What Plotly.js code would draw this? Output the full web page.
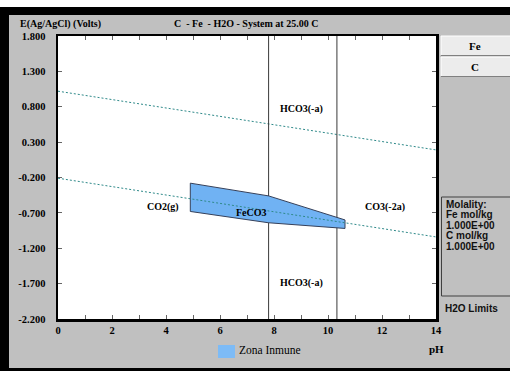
<!DOCTYPE html>
<html><head><meta charset="utf-8">
<script src="https://cdn.plot.ly/plotly-3.0.1.min.js"></script>
<style>html,body{margin:0;padding:0;background:#fff;}#chart{width:510px;height:371px;}</style>
</head><body><div id="chart"></div>
<script>
// ---- data ----
const waterPH = [0, 14];
const o2LimitE = [1.02, 0.19];
const h2LimitE = [-0.21, -1.04];
const boundaryPH = [7.8, 10.33];
const feco3PH = [4.9, 7.8, 10.63, 10.63, 7.8, 4.9, 4.9];
const feco3E = [-0.28, -0.46, -0.80, -0.92, -0.84, -0.68, -0.28];
const regionLabels = ['HCO3(-a)', 'HCO3(-a)', 'CO2(g)', 'FeCO3', 'CO3(-2a)'];
const regionPH = [9.03, 9.03, 3.88, 7.17, 12.1];
const regionE = [0.77, -1.69, -0.62, -0.69, -0.62];
const xTickVals = [0,1,2,3,4,5,6,7,8,9,10,11,12,13,14];
const xTickText = ['0','','2','','4','','6','','8','','10','','12','','14'];
const yTickVals = [1.8, 1.3, 0.8, 0.3, -0.2, -0.7, -1.2, -1.7, -2.2];
const yTickText = ['1.800','1.300','0.800','0.300','-0.200','-0.700','-1.200','-1.700','-2.200'];
const molalityLines = ['Molality:', 'Fe mol/kg', '1.000E+00', 'C mol/kg', '1.000E+00'];

// ---- layout helpers (pixel -> paper) ----
const L = 58, R = 436, T = 36, B = 319;
const px = x => (x - L) / (R - L);
const py = y => (B - y) / (B - T);
const serifB = {family: 'Liberation Serif', size: 10, color: '#000', weight: 'bold'};
const sans = {family: 'Liberation Sans', size: 10, color: '#111', weight: 'bold'};

const traces = [];
traces.push({x: waterPH, y: o2LimitE, mode: 'lines', line: {color: '#2f8a8a', width: 1, dash: '2px,2px'}, showlegend: false, hoverinfo: 'skip'});
boundaryPH.forEach(v => traces.push({x: [v, v], y: [-2.2, 1.8], mode: 'lines', line: {color: '#3a3a3a', width: 1}, showlegend: false, hoverinfo: 'skip'}));
traces.push({x: feco3PH, y: feco3E, mode: 'lines', fill: 'toself', fillcolor: '#70b2f3', line: {color: '#35405a', width: 1}, name: 'Zona Inmune', showlegend: false, hoverinfo: 'skip'});
traces.push({x: waterPH, y: h2LimitE, mode: 'lines', line: {color: '#2f8a8a', width: 1, dash: '2px,2px'}, showlegend: false, hoverinfo: 'skip'});

const ann = [];
regionLabels.forEach((t, i) => ann.push({x: regionPH[i], y: regionE[i], xref: 'x', yref: 'y', text: t, showarrow: false, font: serifB, xanchor: 'center', yanchor: 'middle'}));
ann.push({x: px(18), y: py(24), xref: 'paper', yref: 'paper', text: 'E(Ag/AgCl) (Volts)', showarrow: false, font: serifB, xanchor: 'left', yanchor: 'middle'});
ann.push({x: px(246), y: py(24), xref: 'paper', yref: 'paper', text: 'C \u00a0- Fe \u00a0- H2O - System at 25.00 C', showarrow: false, font: serifB, xanchor: 'center', yanchor: 'middle'});
ann.push({x: px(475), y: py(46), xref: 'paper', yref: 'paper', text: 'Fe', showarrow: false, font: Object.assign({}, serifB, {size: 11}), xanchor: 'center', yanchor: 'middle'});
ann.push({x: px(475), y: py(67), xref: 'paper', yref: 'paper', text: 'C', showarrow: false, font: Object.assign({}, serifB, {size: 11}), xanchor: 'center', yanchor: 'middle'});
const molY = [204, 214.5, 225, 235.5, 246.5];
molalityLines.forEach((t, i) => ann.push({x: px(444), y: py(molY[i]), xref: 'paper', yref: 'paper', text: t, showarrow: false, font: sans, xanchor: 'left', yanchor: 'middle'}));
ann.push({x: px(443), y: py(308), xref: 'paper', yref: 'paper', text: 'H2O Limits', showarrow: false, font: sans, xanchor: 'left', yanchor: 'middle'});
ann.push({x: px(237), y: py(350), xref: 'paper', yref: 'paper', text: 'Zona Inmune', showarrow: false, font: {family: 'Liberation Serif', size: 11.5, color: '#000'}, xanchor: 'left', yanchor: 'middle'});
ann.push({x: px(437), y: py(349), xref: 'paper', yref: 'paper', text: 'pH', showarrow: false, font: Object.assign({}, serifB, {size: 11}), xanchor: 'center', yanchor: 'middle'});

function rect(x0, y0, x1, y1, fill, lineColor, lw) {
  return {type: 'rect', xref: 'paper', yref: 'paper', x0: px(x0), x1: px(x1), y0: py(y0), y1: py(y1), fillcolor: fill, line: {color: lineColor || fill, width: lw || 0}, layer: 'above'};
}
function seg(x0, y0, x1, y1, c) {
  return {type: 'line', xref: 'paper', yref: 'paper', x0: px(x0), x1: px(x1), y0: py(y0), y1: py(y1), line: {color: c, width: 1}, layer: 'above'};
}
const shapes = [
  rect(0, 0, 510, 7, '#ffffff'),
  rect(0, 7, 510, 15, '#000000'),
  rect(0, 7, 9, 371, '#000000'),
  rect(0, 368, 510, 371, '#000000'),
  rect(441, 36, 512, 55, '#ececec'),
  seg(441, 36, 512, 36, '#ffffff'), seg(441, 36, 441, 55, '#ffffff'), seg(441, 55.5, 512, 55.5, '#808080'),
  rect(441, 57, 512, 76, '#ececec'),
  seg(441, 57, 512, 57, '#ffffff'), seg(441, 57, 441, 76, '#ffffff'), seg(441, 76.5, 512, 76.5, '#808080'),
  {type: 'rect', xref: 'paper', yref: 'paper', x0: px(441.5), x1: px(515), y0: py(197), y1: py(296), fillcolor: 'rgba(0,0,0,0)', line: {color: '#404040', width: 1}, layer: 'above'},
  rect(218, 345, 235, 358, '#7dbbf6')
];

const layout = {
  width: 510, height: 371,
  margin: {l: L, r: 510 - R, t: T, b: 371 - B, pad: 0},
  paper_bgcolor: '#c0c0c0', plot_bgcolor: '#ffffff',
  showlegend: false,
  xaxis: {range: [0, 14], tickvals: xTickVals, ticktext: xTickText, ticks: 'inside', ticklen: 4, tickwidth: 1, tickcolor: '#666',
    showline: true, linecolor: '#000', linewidth: 2.5, mirror: 'ticks', showgrid: false, zeroline: false, tickfont: Object.assign({}, serifB, {size: 10.5}), fixedrange: true},
  yaxis: {range: [-2.2, 1.8], tickvals: yTickVals, ticktext: yTickText, ticks: 'inside', ticklen: 4, tickwidth: 1, tickcolor: '#666',
    showline: true, linecolor: '#000', linewidth: 2.5, mirror: 'ticks', showgrid: false, zeroline: false, tickfont: Object.assign({}, serifB, {size: 10.5}), ticklabelstandoff: 8, fixedrange: true},
  annotations: ann, shapes: shapes
};
Plotly.newPlot('chart', traces, layout, {staticPlot: true, displayModeBar: false});
</script></body></html>
